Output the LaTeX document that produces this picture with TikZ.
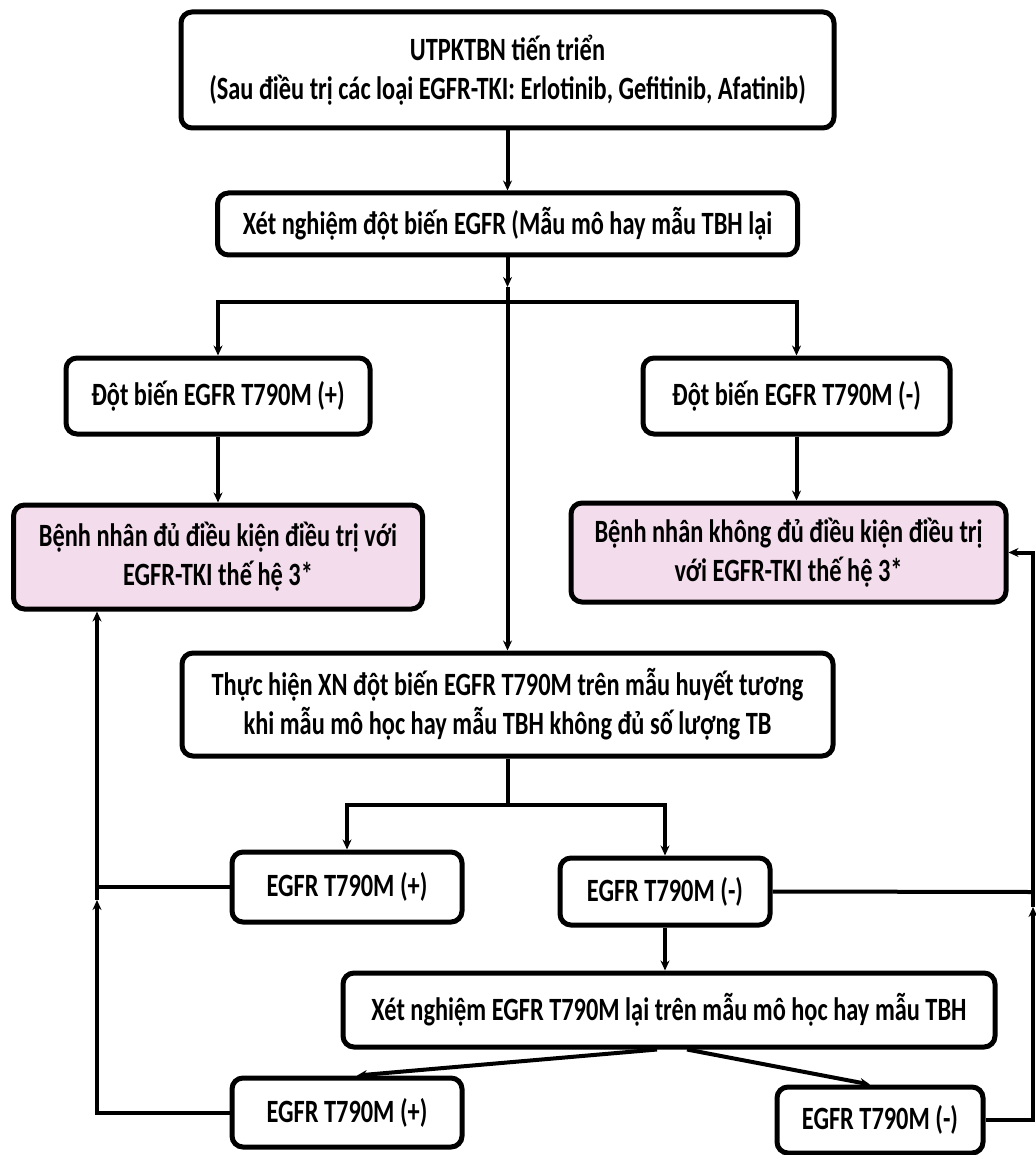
\documentclass[tikz,border=0pt]{standalone}
\usepackage{fontspec}
\setmainfont{Carlito}[FakeStretch=0.75]
\usetikzlibrary{arrows.meta}
\definecolor{pinkfill}{RGB}{243,220,236}
\begin{document}
\begin{tikzpicture}[x=1pt,y=-1pt,
  box/.style={draw, line width=5pt, rounded corners=11pt, fill=white, inner sep=0pt,
    align=center, font=\fontsize{32.5}{39}\selectfont\bfseries},
  pinkbox/.style={box, fill=pinkfill},
  conn/.style={line width=4pt},
  arr/.style={conn, -{Stealth[length=10pt,width=9pt]}}]
\useasboundingbox[fill=white] (0,0) rectangle (1035,1155);

\node[box, minimum width=653pt, minimum height=116pt] (b1) at (507.5,70)
  {UTPKTBN tiến triển\\(Sau điều trị các loại EGFR-TKI: Erlotinib, Gefitinib, Afatinib)};
\node[box, minimum width=580pt, minimum height=62pt] (b2) at (507.5,224)
  {Xét nghiệm đột biến EGFR (Mẫu mô hay mẫu TBH lại};
\node[box, minimum width=304pt, minimum height=76pt] (b3) at (218,396)
  {Đột biến EGFR T790M (+)};
\node[box, minimum width=307pt, minimum height=76pt] (b4) at (796.5,396)
  {Đột biến EGFR T790M (-)};
\node[pinkbox, minimum width=409pt, minimum height=104pt] (b5) at (218,557)
  {Bệnh nhân đủ điều kiện điều trị với\\EGFR-TKI thế hệ 3*};
\node[pinkbox, minimum width=435pt, minimum height=99pt] (b6) at (788.5,552.5)
  {Bệnh nhân không đủ điều kiện điều trị\\với EGFR-TKI thế hệ 3*};
\node[box, minimum width=651pt, minimum height=103pt] (b7) at (507.5,704.5)
  {Thực hiện XN đột biến EGFR T790M trên mẫu huyết tương\\khi mẫu mô học hay mẫu TBH không đủ số lượng TB};
\node[box, minimum width=230pt, minimum height=70pt] (b8) at (347,887)
  {EGFR T790M (+)};
\node[box, minimum width=210pt, minimum height=67pt] (b9) at (665,891.5)
  {EGFR T790M (-)};
\node[box, minimum width=652pt, minimum height=74pt] (b10) at (669,1010)
  {Xét nghiệm EGFR T790M lại trên mẫu mô học hay mẫu TBH};
\node[box, minimum width=230pt, minimum height=69pt] (b11) at (347,1112.5)
  {EGFR T790M (+)};
\node[box, minimum width=206pt, minimum height=66pt] (b12) at (880,1120)
  {EGFR T790M (-)};

\coordinate (j1) at (507.5,302);
\coordinate (j1a) at (507.5,287);
\coordinate (j2) at (507.5,805);
\coordinate (lj) at (97,887);
\coordinate (lja) at (97,900);
\coordinate (rj) at (1033,892);
\coordinate (rja) at (1033,907);

\draw[arr] (b1.south) -- (b2.north);
\draw[arr] (b2.south) -- (j1a);
\draw[arr] (j1a) -- (b7.north);
\draw[arr] (j1) -| (b3.north);
\draw[arr] (j1) -| (b4.north);
\draw[arr] (b3.south) -- (b5.north);
\draw[arr] (b4.south) -- (b4.south |- b6.north);

\draw[conn] (b7.south) -- (j2);
\draw[arr] (j2) -| (b8.north);
\draw[arr] (j2) -| (b9.north);
\draw[arr] (b9.south) -- (b9.south |- b10.north);

\draw[arr] ([xshift=-12pt]b10.south) -- ([xshift=10pt]b11.north);
\draw[arr] ([xshift=18pt]b10.south) -- ([xshift=-10pt]b12.north);

\draw[conn] (b8.west) -- (lj);
\draw[arr] (b11.west) -| (lja);
\draw[arr] (lja) -- (lja |- b5.south);

\draw[conn] (b9.east) -- (rj);
\draw[arr] (b12.east) -| (rja);
\draw[arr] (rja) |- (b6.east);
\end{tikzpicture}
\end{document}
